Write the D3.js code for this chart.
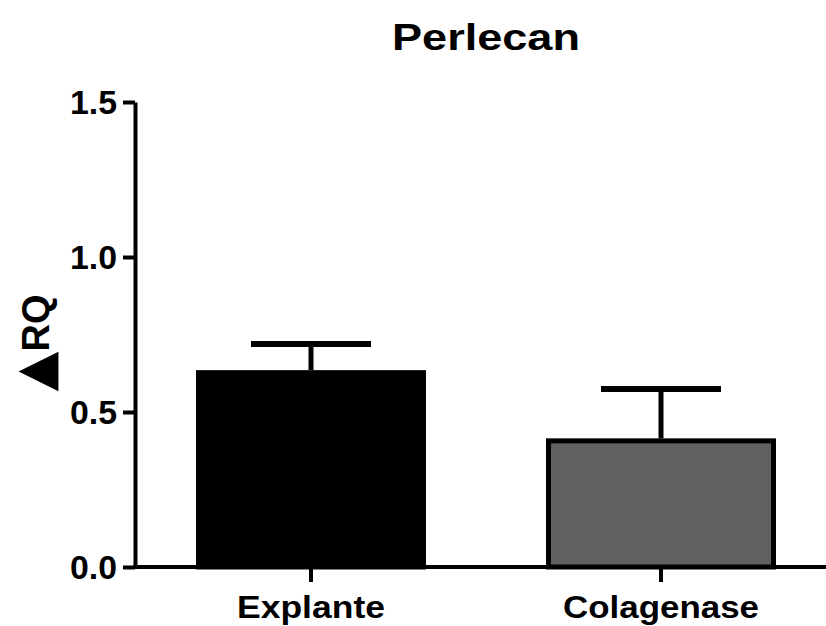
<!DOCTYPE html>
<html lang="en">
  <head>
    <meta charset="UTF-8" />
    <title>Perlecan</title>
    <script src="https://d3js.org/d3.v7.min.js"></script>
    <style>
      body { margin: 0; background: #fff; }
      text { font-family: "Liberation Sans", Arial, sans-serif; font-weight: bold; fill: #000; }
      .axis .domain, .axis line { stroke: #000; stroke-width: 4px; }
    </style>
  </head>
  <body>
    <svg width="826" height="626"></svg>
    <script>
      // data
      const categories = ["Explante", "Colagenase"];
      const means = [0.635, 0.415];
      const errors = [0.084, 0.159];
      const yTicks = [0.0, 0.5, 1.0, 1.5];
      const fills = ["#000000", "#606060"];
      const labelWidths = [148, 196];

      const width = 826, height = 626;
      const svg = d3.select("svg");

      const x = d3.scalePoint().domain(categories).range([136, 836]).padding(0.5);
      const y = d3.scaleLinear().domain([0, 1.5]).range([567, 102]);
      const barW = 230;
      const capW = 120;

      // title
      svg.append("text")
        .attr("x", 486).attr("y", 50)
        .attr("text-anchor", "middle")
        .attr("font-size", 37)
        .attr("textLength", 188).attr("lengthAdjust", "spacingAndGlyphs")
        .text("Perlecan");

      // error bars (drawn under the bars)
      const err = svg.append("g");
      categories.forEach((c, i) => {
        const cx = x(c);
        err.append("line")
          .attr("x1", cx).attr("x2", cx)
          .attr("y1", y(means[i])).attr("y2", y(means[i] + errors[i]))
          .attr("stroke", "#000").attr("stroke-width", 5);
        err.append("line")
          .attr("x1", cx - capW / 2).attr("x2", cx + capW / 2)
          .attr("y1", y(means[i] + errors[i])).attr("y2", y(means[i] + errors[i]))
          .attr("stroke", "#000").attr("stroke-width", 6);
      });

      // bars
      svg.append("g").selectAll("rect")
        .data(categories)
        .enter()
        .append("rect")
        .attr("x", (d) => x(d) - barW / 2 + 2.5)
        .attr("width", barW - 5)
        .attr("y", (d, i) => y(means[i]) + 2.5)
        .attr("height", (d, i) => y(0) - y(means[i]) - 2.5)
        .attr("fill", (d, i) => fills[i])
        .attr("stroke", "#000")
        .attr("stroke-width", 5);

      // y axis
      const yAxis = svg.append("g")
        .attr("class", "axis")
        .attr("transform", "translate(135,0)")
        .call(d3.axisLeft(y).tickValues(yTicks).tickFormat(d3.format(".1f")).tickSize(12).tickPadding(6).tickSizeOuter(0));
      yAxis.selectAll("text")
        .attr("font-size", 33).attr("dy", "0.36em")
        .attr("textLength", 47).attr("lengthAdjust", "spacingAndGlyphs");

      // x axis
      const xAxis = svg.append("g")
        .attr("class", "axis")
        .attr("transform", "translate(0,567)");
      xAxis.append("line")
        .attr("x1", 133).attr("x2", width)
        .attr("stroke", "#000").attr("stroke-width", 4);
      categories.forEach((c, i) => {
        xAxis.append("line")
          .attr("x1", x(c)).attr("x2", x(c))
          .attr("y1", 0).attr("y2", 15)
          .attr("stroke", "#000").attr("stroke-width", 3);
        xAxis.append("text")
          .attr("x", x(c)).attr("y", 51)
          .attr("text-anchor", "middle")
          .attr("font-size", 32)
          .attr("textLength", labelWidths[i]).attr("lengthAdjust", "spacingAndGlyphs")
          .text(c);
      });

      // y label
      const yl = svg.append("text")
        .attr("transform", "translate(49,343) rotate(-90)")
        .attr("text-anchor", "middle");
      yl.append("tspan").attr("font-size", 52).attr("font-family", "DejaVu Sans").attr("dy", 3).text("▲");
      yl.append("tspan").attr("font-size", 38).attr("dy", -3).text("RQ");
    </script>
  </body>
</html>
